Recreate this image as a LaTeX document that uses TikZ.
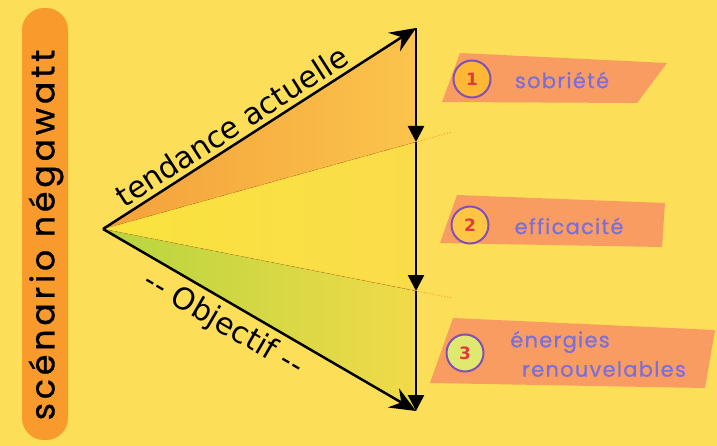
\documentclass[tikz,border=0pt]{standalone}
\usepackage{fontspec}
\setmainfont{DejaVu Sans}
\newfontfamily\comicfont[LetterSpace=6,FakeBold=0.6]{Poppins}
\newfontfamily\titrefont[LetterSpace=12,FakeBold=1]{Poppins}
\usetikzlibrary{arrows.meta}
\definecolor{fond}{HTML}{FDDE58}
\definecolor{barre}{HTML}{F99A2C}
\definecolor{bandeau}{HTML}{F99C62}
\definecolor{violet}{HTML}{8050B4}
\definecolor{texteb}{HTML}{7A6EDA}
\definecolor{chiffre}{HTML}{E23A3A}
\definecolor{pointille}{HTML}{F0A428}
\definecolor{hautg}{HTML}{F4A03A}
\definecolor{hautd}{HTML}{FBC44C}
\definecolor{milieug}{HTML}{FAE33E}
\definecolor{milieud}{HTML}{FADC4A}
\definecolor{basg}{HTML}{B6D53E}
\definecolor{basd}{HTML}{F2DA4A}

\begin{document}
\begin{tikzpicture}[x=1pt,y=-1pt,line width=2.5pt,
  fleche/.style={-{Stealth[length=26pt,width=22pt,inset=9pt]}},
  descente/.style={-{Triangle[length=16pt,width=16pt]}},
  numero/.style={circle,draw=violet,line width=2pt,minimum size=37pt,inner sep=0pt,text=chiffre,font=\fontsize{17}{17}\selectfont\bfseries},
  etiquette/.style={text=texteb,font=\comicfont\fontsize{21}{23}\selectfont}]
\fill[fond] (0,0) rectangle (717,446);
\useasboundingbox (0,0) rectangle (717,446);

\fill[barre,rounded corners=22pt] (22,8) rectangle (68,440);
\node[rotate=90,font=\titrefont\fontsize{33}{33}\selectfont] (titre) at (46,235) {scénario négawatt};

\coordinate (O) at (103,229);
\coordinate (T) at (416,28);
\coordinate (M1) at (416,142);
\coordinate (M2) at (416,291);
\coordinate (B) at (416,411);
\coordinate (D1) at (452,132);
\coordinate (D2) at (452,298);

\fill[left color=hautg,right color=hautd] (O) -- (T) -- (M1) -- cycle;
\fill[left color=milieug,right color=milieud] (O) -- (M1) -- (M2) -- cycle;
\fill[left color=basg,right color=basd] (O) -- (M2) -- (B) -- cycle;

\draw[pointille,line width=1pt,dotted] (O) -- (D1);
\draw[pointille,line width=1pt,dotted] (O) -- (D2);

\draw[fleche] (O) -- node[pos=0.44,above=1pt,sloped,font=\fontsize{30}{30}\selectfont] (tendance) {tendance actuelle} (T);
\draw[fleche] (O) -- node[pos=0.42,below=3pt,sloped,font=\fontsize{30}{30}\selectfont] (objectif) {-{}- Objectif -{}-} (B);
\draw[descente] (T) -- (M1);
\draw[descente] (M1) -- (M2);
\draw[descente] (M2) -- (B);

\fill[bandeau] (460,53) -- (667,63) -- (637,103) -- (442,102) -- cycle;
\fill[bandeau] (457,195) -- (665,203) -- (662,247) -- (440,243) -- cycle;
\fill[bandeau] (453,318) -- (715,330) -- (705,388) -- (430,383) -- cycle;

\node[numero,fill=orange!40!fond] (n1) at (472,79) {1};
\node[numero,fill=orange!25!fond] (n2) at (470,225) {2};
\node[numero,fill=green!15!fond!80!white] (n3) at (465,353) {3};

\node[etiquette] (sobriete) at (562,80) {sobriété};
\node[etiquette] (efficacite) at (569,226) {efficacité};
\node[etiquette] (energies) at (560,342) {énergies};
\node[etiquette] (renouv) at (604,369) {renouvelables};
\end{tikzpicture}
\end{document}
